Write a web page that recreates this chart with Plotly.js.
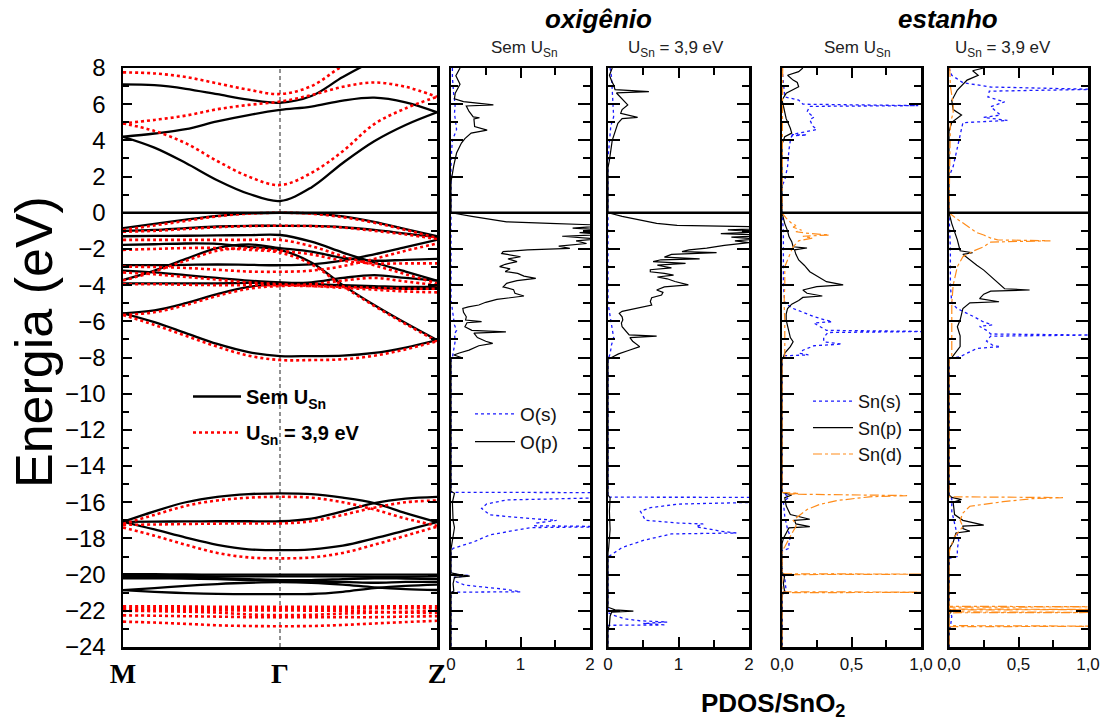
<!DOCTYPE html>
<html>
<head>
<meta charset="utf-8">
<script src="https://cdn.plot.ly/plotly-3.0.1.min.js"></script>
<style>html,body{margin:0;padding:0;background:#fff}</style>
</head>
<body>
<div id="chart" style="width:1103px;height:725px"></div>
<script>
// ---- Band structure along M – Γ – Z ----
const kPath = [0, 0.1, 0.2, 0.3, 0.4, 0.5, 0.6, 0.7, 0.8, 0.9, 1.0];
const kTicks = [0, 0.5, 1];
const kLabels = ['M', 'Γ', 'Z'];

// bands without U (eV)
const bandsSemU = [
  [4.2, 3.6, 2.75, 1.8, 1.05, 0.65, 1.4, 2.75, 3.95, 4.85, 5.55],
  [4.2, 4.38, 4.62, 5.05, 5.4, 5.68, 5.87, 6.2, 6.36, 6.1, 5.55],
  [7.1, 7.05, 6.85, 6.55, 6.25, 6.08, 6.45, 7.5, 8.4, 9.0, 9.4],
  [-0.85, -0.62, -0.38, -0.17, -0.04, 0, -0.04, -0.2, -0.5, -0.9, -1.3],
  [-1.0, -0.95, -0.85, -0.76, -0.72, -0.72, -0.73, -0.8, -0.95, -1.15, -1.35],
  [-1.3, -1.28, -1.27, -1.25, -1.24, -1.23, -1.6, -2.2, -2.75, -3.25, -3.75],
  [-1.78, -1.74, -1.7, -1.72, -1.88, -2.05, -2.75, -4.0, -5.1, -6.1, -7.04],
  [-3.72, -3.2, -2.55, -1.95, -1.75, -1.95, -2.15, -2.5, -2.65, -2.6, -2.55],
  [-2.9, -2.9, -2.88, -2.86, -2.88, -2.9, -2.85, -2.65, -2.3, -1.9, -1.5],
  [-3.9, -3.9, -3.9, -3.9, -3.88, -3.88, -3.85, -3.6, -3.45, -3.6, -3.75],
  [-3.2, -3.3, -3.45, -3.6, -3.75, -3.85, -3.95, -4.05, -4.15, -4.2, -4.2],
  [-5.56, -5.4, -5.0, -4.5, -4.1, -3.95, -3.95, -4.0, -4.05, -4.1, -4.1],
  [-5.56, -6.05, -6.65, -7.25, -7.7, -7.92, -7.92, -7.9, -7.75, -7.45, -7.04],
  [-17.08, -16.5, -16.0, -15.7, -15.55, -15.51, -15.55, -15.75, -16.05, -16.6, -17.1],
  [-17.08, -17.07, -17.06, -17.05, -17.05, -17.05, -16.9, -16.5, -16.05, -15.8, -15.7],
  [-17.08, -17.5, -17.95, -18.35, -18.6, -18.65, -18.6, -18.4, -18.0, -17.55, -17.1],
  [-19.98, -19.98, -19.99, -20.0, -20.0, -20.0, -20.0, -20.0, -20.0, -20.0, -20.0],
  [-20.08, -20.08, -20.08, -20.1, -20.1, -20.1, -20.1, -20.1, -20.12, -20.12, -20.1],
  [-20.15, -20.15, -20.16, -20.2, -20.25, -20.3, -20.3, -20.25, -20.2, -20.22, -20.25],
  [-20.2, -20.2, -20.22, -20.25, -20.3, -20.35, -20.4, -20.4, -20.45, -20.4, -20.4],
  [-20.86, -20.75, -20.62, -20.52, -20.45, -20.42, -20.45, -20.55, -20.7, -20.8, -20.85],
  [-20.86, -20.95, -21.02, -21.06, -21.08, -21.08, -21.07, -20.95, -20.75, -20.62, -20.55]
];

// bands with U_Sn = 3,9 eV
const bandsU = [
  [4.94, 4.52, 3.84, 2.86, 2.0, 1.53, 2.2, 3.4, 4.9, 5.77, 6.41],
  [4.94, 5.13, 5.37, 5.72, 5.96, 6.14, 6.5, 6.96, 7.2, 6.96, 6.41],
  [7.76, 7.7, 7.5, 7.15, 6.8, 6.56, 7.0, 8.1, 8.8, 9.3, 9.6],
  [-0.95, -0.7, -0.45, -0.2, -0.05, 0, -0.05, -0.25, -0.55, -0.95, -1.4],
  [-1.05, -1.0, -0.9, -0.8, -0.74, -0.72, -0.74, -0.82, -1.0, -1.2, -1.45],
  [-1.5, -1.5, -1.5, -1.5, -1.5, -1.5, -1.85, -2.4, -2.9, -3.4, -3.9],
  [-2.05, -2.0, -1.95, -1.95, -2.05, -2.2, -2.85, -4.05, -5.15, -6.15, -7.1],
  [-3.75, -3.25, -2.65, -2.1, -1.95, -2.1, -2.3, -2.65, -2.8, -2.8, -2.8],
  [-2.98, -3.0, -3.05, -3.15, -3.25, -3.26, -3.2, -2.95, -2.55, -2.1, -1.7],
  [-3.95, -3.95, -3.98, -4.0, -4.0, -4.0, -3.95, -3.75, -3.6, -3.8, -4.0],
  [-3.3, -3.4, -3.55, -3.7, -3.85, -3.95, -4.05, -4.15, -4.25, -4.35, -4.4],
  [-5.65, -5.5, -5.1, -4.6, -4.2, -4.05, -4.05, -4.1, -4.15, -4.2, -4.2],
  [-5.65, -6.2, -6.8, -7.4, -7.9, -8.14, -8.14, -8.1, -7.9, -7.55, -7.1],
  [-17.2, -16.7, -16.2, -15.9, -15.75, -15.7, -15.75, -16.0, -16.4, -16.9, -17.3],
  [-17.25, -17.23, -17.2, -17.18, -17.17, -17.17, -17.05, -16.7, -16.3, -16.0, -15.9],
  [-17.4, -17.85, -18.35, -18.8, -19.05, -19.1, -19.05, -18.8, -18.35, -17.85, -17.35],
  [-21.75, -21.75, -21.76, -21.78, -21.78, -21.78, -21.78, -21.78, -21.76, -21.75, -21.75],
  [-21.85, -21.85, -21.86, -21.88, -21.9, -21.9, -21.9, -21.88, -21.86, -21.85, -21.85],
  [-21.96, -21.96, -21.97, -21.98, -21.98, -21.98, -21.99, -22.0, -22.05, -22.1, -22.12],
  [-22.0, -22.02, -22.05, -22.1, -22.2, -22.24, -22.22, -22.15, -22.1, -22.05, -22.0],
  [-22.25, -22.27, -22.3, -22.32, -22.35, -22.35, -22.35, -22.35, -22.35, -22.32, -22.3],
  [-22.6, -22.65, -22.72, -22.8, -22.84, -22.85, -22.84, -22.78, -22.7, -22.62, -22.55]
];

// ---- Projected DOS, pairs of [energy (eV), PDOS] ----
const oS_semU = [[8,0.02],[7.5,0.02],[6.5,0.04],[6.0,0.06],[5.5,0.05],[4.6,0.08],[4.3,0.05],[4.0,0.02],[3.5,0.01],[2.5,0],
  [-4.8,0],[-5.3,0.02],[-5.8,0.04],[-6.2,0.05],[-6.5,0.08],[-6.7,0.05],[-7.1,0.06],[-7.6,0.04],[-8.0,0.02],[-8.1,0],
  [-15.45,0],[-15.47,2.5],[-15.73,2.5],[-15.87,0.8],[-16.1,0.51],[-16.34,0.44],[-16.7,0.56],[-16.9,1.14],[-17.0,1.52],[-17.15,1.23],
  [-17.3,1.2],[-17.35,2.5],[-17.4,1.15],[-17.8,0.56],[-18.2,0.32],[-18.55,0.03],[-18.7,0],
  [-19.95,0],[-20.05,0.27],[-20.15,0.05],[-20.4,0.08],[-20.58,0.2],[-20.82,0.8],[-20.95,1.0],[-20.97,0],[-24,0]];
const oP_semU = [[8.0,0.13],[7.57,0.07],[7.1,0.13],[6.6,0.06],[6.3,0.05],[6.14,0.18],[5.96,0.61],[5.9,0.22],[5.6,0.26],[5.3,0.32],
  [5.25,0.41],[5.18,0.33],[4.76,0.34],[4.57,0.52],[4.4,0.29],[4.1,0.2],[3.85,0.15],[3.3,0.08],[2.6,0.04],[2.0,0.02],[1.7,0],[0.05,0],
  [0,0],[-0.2,0.3],[-0.4,0.6],[-0.5,0.8],[-0.59,1.42],[-0.63,2.0],[-0.7,2.3],[-0.85,1.75],[-1.0,2.4],[-1.1,1.85],[-1.2,2.2],
  [-1.3,1.6],[-1.45,2.1],[-1.55,1.8],[-1.7,1.95],[-1.85,1.55],[-1.97,1.71],[-2.05,1.1],[-2.15,0.75],[-2.25,0.73],[-2.35,0.9],
  [-2.43,1.0],[-2.55,0.82],[-2.7,0.95],[-2.85,0.78],[-2.98,0.7],[-3.1,0.85],[-3.25,0.78],[-3.35,0.96],[-3.5,1.05],[-3.63,1.22],
  [-3.75,0.95],[-3.9,0.8],[-4.0,0.77],[-4.1,0.75],[-4.25,0.9],[-4.45,0.92],[-4.6,1.05],[-4.7,0.8],[-4.79,0.66],[-4.95,0.5],
  [-5.1,0.4],[-5.2,0.25],[-5.29,0.17],[-5.5,0.18],[-5.75,0.22],[-5.93,0.21],[-6.02,0.44],[-6.08,0.23],[-6.3,0.2],[-6.5,0.3],
  [-6.58,0.79],[-6.65,0.33],[-6.9,0.38],[-7.1,0.5],[-7.22,0.6],[-7.35,0.4],[-7.59,0.26],[-7.75,0.12],[-7.86,0.04],[-8.0,0.15],[-8.05,0],
  [-15.4,0],[-15.5,0.05],[-16,0.02],[-17,0.03],[-17.4,0.05],[-18,0.02],[-18.6,0],
  [-19.9,0],[-20.0,0.12],[-20.08,0.27],[-20.15,0.05],[-20.5,0.03],[-20.9,0.04],[-21.0,0],[-24,0]];

const oS_U = [[8,0.03],[7.5,0.05],[6.8,0.06],[6,0.07],[5.3,0.08],[4.8,0.04],[4.0,0.02],[3.0,0],
  [-5.0,0],[-5.5,0.02],[-6.0,0.04],[-6.5,0.06],[-6.9,0.08],[-7.3,0.05],[-7.8,0.03],[-8.1,0],
  [-15.72,0],[-15.73,2.5],[-15.97,2.5],[-16.1,1.0],[-16.3,0.6],[-16.5,0.46],[-16.8,0.5],[-17.0,0.53],[-17.15,1.0],[-17.2,1.35],
  [-17.35,1.25],[-17.45,1.4],[-17.6,1.6],[-17.7,1.82],[-17.75,0.9],[-18.1,0.51],[-18.5,0.2],[-19.0,0.01],[-19.1,0],
  [-22.1,0],[-22.25,0.08],[-22.45,0.25],[-22.55,0.45],[-22.62,0.84],[-22.7,0.5],[-22.78,0.82],[-22.8,0],[-24,0]];
const oP_U = [[8,0.06],[7.6,0.02],[7.3,0.05],[7.06,0.08],[6.8,0.1],[6.69,0.58],[6.62,0.12],[6.3,0.2],[5.96,0.28],[5.7,0.2],
  [5.5,0.18],[5.27,0.42],[5.2,0.2],[4.94,0.14],[4.5,0.1],[4.0,0.06],[2.9,0.02],[2.5,0],[0.05,0],
  [0,0],[-0.2,0.2],[-0.4,0.45],[-0.59,0.69],[-0.7,0.98],[-0.77,2.0],[-0.85,2.3],[-0.95,1.7],[-1.05,2.2],[-1.15,1.6],[-1.25,2.3],
  [-1.35,1.75],[-1.45,2.1],[-1.55,1.8],[-1.65,2.0],[-1.8,1.65],[-1.95,1.4],[-2.05,1.15],[-2.15,1.05],[-2.2,1.54],[-2.3,0.9],
  [-2.45,0.8],[-2.55,1.3],[-2.6,0.75],[-2.7,0.64],[-2.8,1.1],[-2.9,0.7],[-3.05,0.9],[-3.15,0.6],[-3.26,0.6],[-3.35,0.8],
  [-3.45,0.93],[-3.55,0.7],[-3.65,0.84],[-3.8,0.95],[-3.99,1.14],[-4.1,0.8],[-4.27,0.69],[-4.4,0.78],[-4.55,0.76],[-4.7,0.62],
  [-4.9,0.6],[-5.1,0.62],[-5.3,0.35],[-5.45,0.2],[-5.56,0.16],[-5.75,0.2],[-5.93,0.21],[-6.1,0.19],[-6.3,0.2],[-6.5,0.25],
  [-6.75,0.3],[-6.82,0.69],[-6.9,0.31],[-7.1,0.35],[-7.4,0.45],[-7.6,0.3],[-7.8,0.15],[-7.96,0.07],[-8.1,0],
  [-15.6,0],[-15.75,0.03],[-16.5,0.02],[-17.5,0.03],[-18.5,0.01],[-18.8,0],
  [-21.8,0],[-21.95,0.1],[-22.02,0.36],[-22.08,0.05],[-22.3,0.03],[-22.8,0.02],[-23,0],[-24,0]];

const snS_semU = [[8,0],[6.4,0.02],[6.23,0.12],[6.0,0.15],[5.92,0.98],[5.88,0.2],[5.58,0.18],[5.45,0.2],[5.28,0.23],[5.15,0.2],
  [4.8,0.22],[4.6,0.25],[4.45,0.16],[4.32,0.07],[4.3,0.18],[4.25,0.07],[4.0,0.06],[3.47,0.05],[2.55,0.04],[1.8,0.02],[1.5,0],[0.05,0],
  [0,0],[-1,0.01],[-2,0.01],[-3,0.01],[-4,0.01],[-5.0,0.02],[-5.29,0.08],[-5.5,0.15],[-5.74,0.23],[-5.9,0.3],[-6.02,0.36],
  [-6.1,0.23],[-6.3,0.28],[-6.5,0.32],[-6.56,1.05],[-6.62,0.33],[-6.9,0.3],[-7.13,0.3],[-7.26,0.43],[-7.35,0.23],[-7.6,0.15],
  [-7.77,0.13],[-7.86,0.19],[-7.9,0.02],[-8.0,0],
  [-15.45,0],[-15.7,0.05],[-16.0,0.01],[-16.8,0.02],[-17.5,0.04],[-17.9,0.06],[-18.3,0.05],[-18.55,0.05],[-18.7,0],
  [-19.9,0],[-20.2,0.02],[-20.9,0.03],[-21.0,0],[-24,0]];
const snP_semU = [[8,0.15],[7.8,0.12],[7.6,0.04],[7.33,0.08],[7.2,0.11],[6.96,0.12],[6.6,0.03],[6.23,0.0],[5.9,0.01],[5.2,0.03],
  [4.67,0.06],[4.4,0.07],[4.2,0.02],[3.8,0],[0.05,0],
  [0,0],[-0.6,0.02],[-1.0,0.04],[-1.32,0.05],[-1.6,0.07],[-1.88,0.08],[-1.95,0.18],[-2.05,0.09],[-2.3,0.1],[-2.61,0.12],
  [-2.9,0.16],[-3.26,0.2],[-3.5,0.25],[-3.81,0.32],[-3.99,0.44],[-4.08,0.25],[-4.27,0.15],[-4.45,0.18],[-4.6,0.29],[-4.68,0.15],
  [-4.85,0.12],[-5.05,0.07],[-5.29,0.04],[-5.6,0.03],[-5.93,0.03],[-6.3,0.04],[-6.6,0.05],[-6.9,0.06],[-7.13,0.08],[-7.4,0.06],
  [-7.75,0.02],[-8.0,0.01],[-8.1,0],
  [-15.45,0],[-15.6,0.07],[-15.75,0.02],[-16.2,0.03],[-16.68,0.06],[-16.94,0.2],[-17.0,0.09],[-17.2,0.1],[-17.35,0.2],[-17.42,0.05],
  [-17.7,0.03],[-18.0,0.01],[-18.3,0],[-19.9,0],[-20.0,0.02],[-20.5,0.01],[-21.0,0.02],[-21.1,0],[-24,0]];
const snD_semU = [[8,0.005],[2,0.005],[1.5,0],[0.05,0],
  [0,0],[-0.3,0.03],[-0.59,0.07],[-0.7,0.1],[-0.8,0.08],[-0.96,0.14],[-1.05,0.1],[-1.15,0.2],[-1.23,0.34],[-1.3,0.15],
  [-1.4,0.22],[-1.55,0.12],[-1.7,0.1],[-1.88,0.08],[-2.05,0.07],[-2.25,0.06],[-2.6,0.04],[-2.98,0.02],[-4,0.02],[-5,0.015],
  [-6,0.02],[-7,0.02],[-8,0.02],[-8.1,0],
  [-15.45,0],[-15.51,0.12],[-15.55,0.05],[-15.63,0.9],[-15.7,0.63],[-15.9,0.4],[-16.12,0.27],[-16.4,0.18],[-16.68,0.13],
  [-17.0,0.08],[-17.2,0.1],[-17.35,0.1],[-17.6,0.08],[-17.9,0.06],[-18.2,0.04],[-18.46,0.02],[-18.7,0],
  [-19.96,0],[-19.97,1.3],[-20.0,0],[-20.95,0],[-20.97,1.3],[-21.0,0],[-24,0]];

const snS_U = [[8,0],[7.6,0.02],[7.19,0.1],[6.95,0.3],[6.82,1.05],[6.72,0.29],[6.4,0.28],[6.13,0.4],[5.86,0.3],[5.4,0.37],
  [5.27,0.25],[5.1,0.42],[4.98,0.1],[4.0,0.07],[2.55,0.03],[2.0,0],[0.05,0],
  [0,0],[-2,0.01],[-4,0.01],[-5.0,0.02],[-5.3,0.06],[-5.75,0.18],[-6.0,0.24],[-6.2,0.31],[-6.28,0.22],[-6.5,0.27],[-6.7,0.3],
  [-6.76,1.05],[-6.82,0.3],[-7.1,0.27],[-7.35,0.32],[-7.4,0.37],[-7.5,0.2],[-7.8,0.12],[-7.96,0.08],[-8.05,0],
  [-15.6,0],[-15.8,0.02],[-16.5,0.02],[-17.5,0.05],[-18.1,0.07],[-18.6,0.06],[-19.0,0.06],[-19.1,0],
  [-22.0,0],[-22.3,0.02],[-22.9,0.01],[-23,0],[-24,0]];
const snP_U = [[8,0.25],[7.85,0.17],[7.6,0.21],[7.33,0.13],[6.78,0.06],[6.2,0.02],[5.7,0.03],[5.4,0.09],[5.0,0.02],[4.5,0],[0.05,0],
  [0,0],[-0.6,0.02],[-1.5,0.06],[-2.1,0.08],[-2.21,0.17],[-2.3,0.1],[-2.61,0.15],[-2.9,0.2],[-3.17,0.25],[-3.5,0.3],
  [-3.99,0.37],[-4.2,0.4],[-4.27,0.58],[-4.33,0.3],[-4.5,0.25],[-4.75,0.22],[-4.92,0.36],[-4.98,0.15],[-5.29,0.1],[-5.93,0.08],
  [-6.3,0.06],[-6.8,0.08],[-7.4,0.08],[-7.8,0.04],[-8.0,0.02],[-8.1,0],
  [-15.6,0],[-15.73,0.02],[-15.85,0.09],[-16.0,0.03],[-16.68,0.04],[-17.0,0.1],[-17.26,0.25],[-17.32,0.1],[-17.45,0.1],
  [-17.6,0.15],[-17.7,0.05],[-18.2,0.03],[-18.6,0],[-21.9,0],[-22.0,0.02],[-22.2,0],[-24,0]];
const snD_U = [[8,0.005],[7,0.01],[6,0.03],[5.5,0.03],[5,0.01],[3,0.005],[2,0],[0.05,0],
  [0,0],[-0.3,0.05],[-0.68,0.12],[-0.96,0.17],[-1.1,0.2],[-1.23,0.25],[-1.4,0.3],[-1.5,0.35],[-1.55,0.73],[-1.62,0.3],
  [-1.88,0.25],[-2.1,0.18],[-2.43,0.1],[-2.98,0.06],[-4.0,0.03],[-5,0.02],[-6,0.02],[-7,0.02],[-8,0.02],[-8.1,0],
  [-15.7,0],[-15.74,0.82],[-15.8,0.6],[-15.97,0.39],[-16.22,0.15],[-16.6,0.1],[-17.0,0.08],[-17.35,0.1],[-17.9,0.04],
  [-18.5,0.01],[-18.8,0],[-21.75,0],[-21.78,1.3],[-21.8,0],[-21.9,0],[-21.93,1.3],[-21.95,0],[-22.06,0],[-22.09,1.3],
  [-22.11,0],[-22.82,0],[-22.85,1.3],[-22.88,0],[-24,0]];

// ---- styles ----
const styleSem = {color: '#000000', width: 2.3};
const styleU = {color: '#ff0000', width: 2.6, dash: 'dot'};
const styleS = {color: '#1a1aff', width: 1.3, dash: 'dot'};
const styleP = {color: '#000000', width: 1.2};
const styleD = {color: '#ff8c1a', width: 1.2, dash: 'dashdot'};

const traces = [];
bandsSemU.forEach((b, i) => traces.push({
  x: kPath, y: b, xaxis: 'x', yaxis: 'y', mode: 'lines',
  line: Object.assign({shape: 'spline', smoothing: 1}, styleSem),
  name: 'Sem U<sub>Sn</sub>', legend: 'legend', legendgroup: 'sem', showlegend: i === 0, hoverinfo: 'skip'
}));
bandsU.forEach((b, i) => traces.push({
  x: kPath, y: b, xaxis: 'x', yaxis: 'y', mode: 'lines',
  line: Object.assign({shape: 'spline', smoothing: 1}, styleU),
  name: 'U<sub>Sn</sub> = 3,9 eV', legend: 'legend', legendgroup: 'u', showlegend: i === 0, hoverinfo: 'skip'
}));

function pdos(pairs, n, style, name, legend, show) {
  traces.push({
    x: pairs.map(p => p[1]), y: pairs.map(p => p[0]),
    xaxis: 'x' + n, yaxis: 'y' + n, mode: 'lines', line: style,
    name: name, legend: legend, showlegend: show, hoverinfo: 'skip'
  });
}
pdos(oS_semU, 2, styleS, 'O(s)', 'legend2', true);
pdos(oP_semU, 2, styleP, 'O(p)', 'legend2', true);
pdos(oS_U, 3, styleS, 'O(s)', 'legend2', false);
pdos(oP_U, 3, styleP, 'O(p)', 'legend2', false);
pdos(snS_semU, 4, styleS, 'Sn(s)', 'legend3', true);
pdos(snP_semU, 4, styleP, 'Sn(p)', 'legend3', true);
pdos(snD_semU, 4, styleD, 'Sn(d)', 'legend3', true);
pdos(snS_U, 5, styleS, 'Sn(s)', 'legend3', false);
pdos(snP_U, 5, styleP, 'Sn(p)', 'legend3', false);
pdos(snD_U, 5, styleD, 'Sn(d)', 'legend3', false);

// ---- layout ----
const W = 1103, H = 725;
const px = v => v / W;
const py = v => 1 - v / H;
const yDom = [py(647), py(68)];
const frame = {showline: true, linecolor: '#000', linewidth: 2.5, mirror: 'allticks',
  showgrid: false, zeroline: false};

function pdosY(n) {
  return Object.assign({}, frame, {
    domain: yDom, range: [-24, 8], anchor: 'x' + n, dtick: 2, tick0: 0,
    ticks: 'inside', ticklen: 12, tickwidth: 2, tickcolor: '#000', showticklabels: false,
    minor: {dtick: 1, ticks: 'inside', ticklen: 7, tickwidth: 2, tickcolor: '#000'}
  });
}
function pdosX(n, dom, maxv, major, minorStep, fmt) {
  return Object.assign({}, frame, {
    domain: dom, range: [0, maxv], anchor: 'y' + n, dtick: major, tick0: 0, tickformat: fmt,
    ticks: 'inside', ticklen: 10, tickwidth: 2, tickcolor: '#000',
    tickfont: {family: 'Arial, Liberation Sans, sans-serif', size: 17, color: '#111'},
    minor: {dtick: minorStep, ticks: 'inside', ticklen: 7, tickwidth: 2, tickcolor: '#000'}
  });
}

const arial = 'Arial, Liberation Sans, sans-serif';
function label(text, x, y, size, extra) {
  return Object.assign({text: text, x: px(x), y: py(y), xref: 'paper', yref: 'paper',
    xanchor: 'center', yanchor: 'middle', showarrow: false,
    font: {family: arial, size: size, color: '#000'}}, extra || {});
}

const layout = {
  width: W, height: H, margin: {l: 0, r: 0, t: 0, b: 0},
  paper_bgcolor: '#fff', plot_bgcolor: '#fff', separators: ',.',
  xaxis: Object.assign({}, frame, {
    domain: [px(123), px(437)], range: [0, 1], anchor: 'y', mirror: true,
    tickvals: kTicks, ticktext: kLabels, ticks: '',
    tickfont: {family: 'Liberation Serif, Times New Roman, serif', size: 28, color: '#000', weight: 'bold'}
  }),
  yaxis: Object.assign({}, frame, {
    domain: yDom, range: [-24, 8], anchor: 'x', dtick: 2, tick0: 0,
    ticks: 'inside', ticklen: 9, tickwidth: 2, tickcolor: '#000', ticklabelstandoff: 10,
    tickfont: {family: arial, size: 24, color: '#000'},
    minor: {dtick: 1, ticks: 'inside', ticklen: 6, tickwidth: 2, tickcolor: '#000'}
  }),
  xaxis2: pdosX(2, [px(451), px(590)], 2, 1, 0.5, 'd'),
  xaxis3: pdosX(3, [px(608), px(749)], 2, 1, 0.5, 'd'),
  xaxis4: pdosX(4, [px(782), px(921)], 1, 0.5, 0.25, '.1f'),
  xaxis5: pdosX(5, [px(949), px(1088)], 1, 0.5, 0.25, '.1f'),
  yaxis2: pdosY(2), yaxis3: pdosY(3), yaxis4: pdosY(4), yaxis5: pdosY(5),
  legend: {x: px(188), y: py(377), xanchor: 'left', yanchor: 'top', bgcolor: 'rgba(0,0,0,0)',
    itemwidth: 48, tracegroupgap: 7,
    font: {family: arial, size: 20, color: '#000', weight: 'bold'}},
  legend2: {x: px(470), y: py(395), xanchor: 'left', yanchor: 'top', bgcolor: 'rgba(0,0,0,0)',
    itemwidth: 40, tracegroupgap: 0,
    font: {family: arial, size: 19, color: '#111'}},
  legend3: {x: px(808), y: py(383), xanchor: 'left', yanchor: 'top', bgcolor: 'rgba(0,0,0,0)',
    itemwidth: 40, tracegroupgap: 0,
    font: {family: arial, size: 18, color: '#111'}},
  shapes: [
    // Fermi level in every panel
    ...['', '2', '3', '4', '5'].map(n => ({type: 'line', xref: 'x' + n + ' domain', x0: 0, x1: 1,
      yref: 'y' + n, y0: 0, y1: 0, line: {color: '#000', width: 2.5}, layer: 'above'})),
    // Γ marker
    {type: 'line', xref: 'x', x0: kTicks[1], x1: kTicks[1], yref: 'y domain', y0: 0, y1: 1,
      line: {color: '#222', width: 1, dash: '4px,3px'}, layer: 'below'}
  ],
  annotations: [
    label('Energia (eV)', 34, 342, 52, {textangle: -90}),
    label('<b><i>oxigênio</i></b>', 598, 19, 26),
    label('<b><i>estanho</i></b>', 948, 19, 26),
    label('Sem U<sub>Sn</sub>', 524, 49, 17, {font: {family: arial, size: 17, color: '#222'}}),
    label('U<sub>Sn</sub> = 3,9 eV', 676, 49, 17, {font: {family: arial, size: 17, color: '#222'}}),
    label('Sem U<sub>Sn</sub>', 857, 49, 17, {font: {family: arial, size: 17, color: '#222'}}),
    label('U<sub>Sn</sub> = 3,9 eV', 1003, 49, 17, {font: {family: arial, size: 17, color: '#222'}}),
    label('<b>PDOS/SnO<sub>2</sub></b>', 773, 704, 26)
  ]
};

Plotly.newPlot('chart', traces, layout, {staticPlot: true, displayModeBar: false});
</script>
</body>
</html>
